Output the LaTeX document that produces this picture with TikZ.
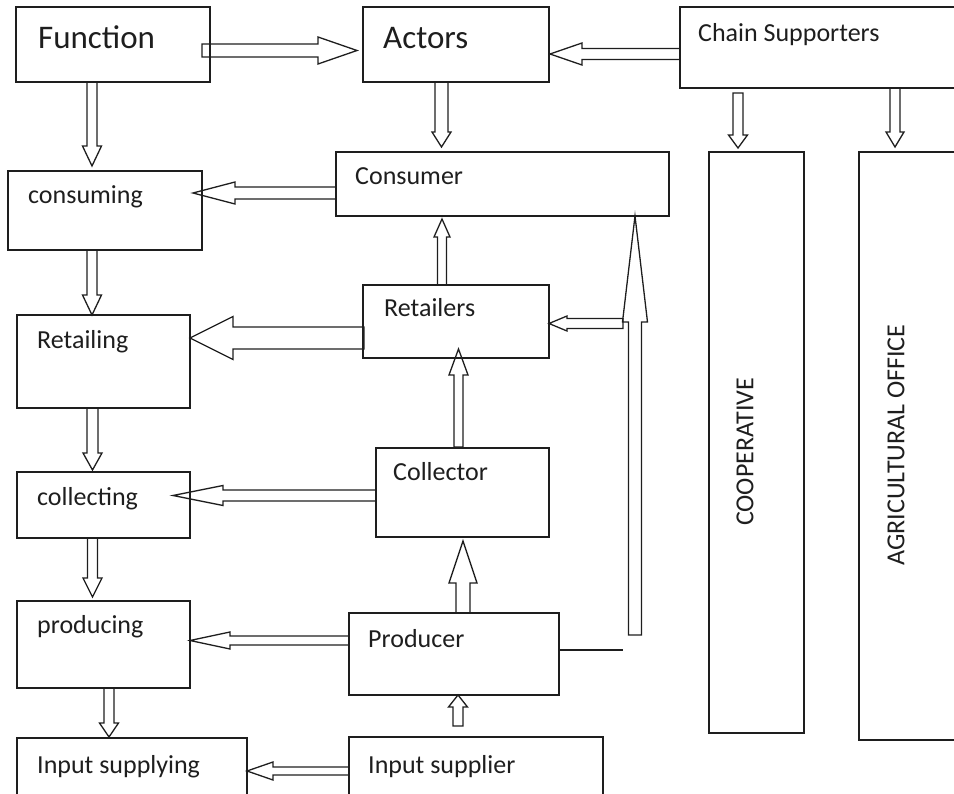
\documentclass[tikz,border=0pt]{standalone}
\usepackage{fontspec}
\setmainfont{Carlito}
\usepackage{tikz}
\usetikzlibrary{calc}
\definecolor{cLine}{RGB}{30,30,30}

% hollow block arrow: start, tip, half shaft, half head, head length
\newcommand{\blockarrow}[5]{%
  \coordinate (ba-s) at #1;
  \coordinate (ba-t) at #2;
  \coordinate (ba-h) at ($(ba-t)!#5!(ba-s)$);
  \draw[barrow] ($(ba-s)!#3!90:(ba-t)$) -- ($(ba-h)!#3!90:(ba-t)$)
    -- ($(ba-h)!#4!90:(ba-t)$) -- (ba-t) -- ($(ba-h)!#4!-90:(ba-t)$)
    -- ($(ba-h)!#3!-90:(ba-t)$) -- ($(ba-s)!#3!-90:(ba-t)$) -- cycle;}

\begin{document}
\begin{tikzpicture}[x=1pt,y=-1pt,font=\fontsize{26}{30}\selectfont,
  box/.style={draw=cLine,line width=1.8pt,inner sep=0pt,outer sep=0pt},
  lbl/.style={anchor=base west,inner sep=0pt,text=cLine},
  big/.style={font=\fontsize{33}{38}\selectfont},
  barrow/.style={draw=cLine,line width=1.3pt,line join=miter}]
 \useasboundingbox (0,0) rectangle (954,794);
 % ---- boxes ----
 \node[box,minimum width=194pt,minimum height=75pt] (fn) at (113,44.5) {};
 \node[box,minimum width=186pt,minimum height=75pt] (act) at (456,44.5) {};
 \node[box,minimum width=295pt,minimum height=81pt] (sup) at (827.5,47.5) {};
 \node[box,minimum width=194pt,minimum height=79pt] (cons) at (105,210.5) {};
 \node[box,minimum width=333pt,minimum height=64pt] (csr) at (502.5,184) {};
 \node[box,minimum width=173pt,minimum height=93pt] (rtl) at (103.5,361.5) {};
 \node[box,minimum width=186pt,minimum height=73pt] (rtr) at (456,321.5) {};
 \node[box,minimum width=173pt,minimum height=66pt] (col) at (103.5,505) {};
 \node[box,minimum width=173pt,minimum height=89pt] (clr) at (462.5,492.5) {};
 \node[box,minimum width=173pt,minimum height=87pt] (prd) at (103.5,644.5) {};
 \node[box,minimum width=210pt,minimum height=82pt] (pdr) at (454,654) {};
 \node[box,minimum width=230pt,minimum height=72pt] (ins) at (132,774) {};
 \node[box,minimum width=254pt,minimum height=63pt] (isr) at (476,768.5) {};
 \node[box,minimum width=95pt,minimum height=581pt] (coop) at (756.5,442.5) {};
 \node[box,minimum width=116pt,minimum height=588pt] (agri) at (917,446) {};
 % ---- labels ----
 \node[lbl,big] (fnt) at (38,49) {Function};
 \node[lbl,big] (actt) at (383,49) {Actors};
 \node[lbl] (supt) at (698,42) {Chain Supporters};
 \node[lbl] (const) at (28,204) {consuming};
 \node[lbl] (csrt) at (355,185) {Consumer};
 \node[lbl] (rtlt) at (37,349) {Retailing};
 \node[lbl] (rtrt) at (384,317) {Retailers};
 \node[lbl] (colt) at (37,505) {collecting};
 \node[lbl] (clrt) at (393,481) {Collector};
 \node[lbl] (prdt) at (37,633) {producing};
 \node[lbl] (pdrt) at (368,647) {Producer};
 \node[lbl] (inst) at (37,773) {Input supplying};
 \node[lbl] (isrt) at (368,773) {Input supplier};
 \node[lbl,anchor=center,rotate=90] (coopt) at (745,452) {COOPERATIVE};
 \node[lbl,anchor=center,rotate=90] (agrit) at (896,445) {AGRICULTURAL OFFICE};
 % ---- top row ----
 \blockarrow{($(fn.east)+(-8,6)$)}{($(act.west)+(-6,6)$)}{6.5pt}{13.5pt}{39pt}
 \blockarrow{($(sup.west)+(0,6.5)$)}{($(act.east)+(1,9.5)$)}{5.5pt}{11pt}{32pt}
 % ---- function column ----
 \blockarrow{($(fn.south)+(-21,0)$)}{($(cons.north)+(-13,-5)$)}{5pt}{9.5pt}{20pt}
 \blockarrow{($(cons.south)+(-13,0)$)}{($(rtl.north)+(-11.5,0)$)}{5pt}{9.5pt}{20pt}
 \blockarrow{($(rtl.south)+(-11,0)$)}{($(col.north)+(-11,-2)$)}{5.5pt}{9.5pt}{17pt}
 \blockarrow{($(col.south)+(-11,0)$)}{($(prd.north)+(-11,-4)$)}{5pt}{9.5pt}{19pt}
 \blockarrow{($(prd.south)+(5.5,0)$)}{($(ins.north)+(-23,-1)$)}{5pt}{9.5pt}{14pt}
 % ---- actors column ----
 \blockarrow{($(act.south)+(-14.5,0)$)}{($(csr.north)+(-61,-5)$)}{6.5pt}{9.5pt}{15pt}
 \blockarrow{($(csr.west)+(0,9)$)}{($(cons.east)+(-9,-17.5)$)}{6pt}{11pt}{42pt}
 \blockarrow{($(rtr.north)+(-14,0)$)}{($(csr.south)+(-60.5,3)$)}{4.5pt}{8pt}{18pt}
 \blockarrow{($(rtr.west)+(1,16.5)$)}{($(rtl.east)+(0,-23.5)$)}{11pt}{21.5pt}{43pt}
 \blockarrow{($(clr.north)+(-4,-1)$)}{($(rtr.south)+(2.5,-9)$)}{4.5pt}{9.5pt}{26pt}
 \blockarrow{($(clr.west)+(0,3)$)}{($(col.east)+(-17,-9.5)$)}{5.5pt}{10pt}{50pt}
 \blockarrow{($(pdr.north)+(9,0)$)}{($(clr.south)+(0.5,4)$)}{7pt}{14pt}{42pt}
 \blockarrow{($(pdr.west)+(0,-13.5)$)}{($(prd.east)+(0,-4)$)}{4.5pt}{8.5pt}{40pt}
 \blockarrow{($(isr.north)+(-18,-11)$)}{($(pdr.south)+(4,0)$)}{5pt}{9.5pt}{12pt}
 \blockarrow{($(isr.west)+(0,2.5)$)}{($(ins.east)+(0,-3)$)}{4pt}{9pt}{26pt}
 % ---- long arrow up to consumer ----
 \coordinate (bigfoot) at (635,635);
 \coordinate (rfork) at (623,323.5);
 \coordinate (pfree) at (623,650);
 \blockarrow{(bigfoot)}{($(csr.south east)+(-34,0)$)}{6.5pt}{12.5pt}{106pt}
 \blockarrow{(rfork)}{($(rtr.east)+(0,2)$)}{5pt}{7.5pt}{18pt}
 \draw[barrow] ($(pdr.east)+(0,-4)$) -- (pfree);
 % ---- supporters ----
 \blockarrow{($(sup.south)+(-89.5,5)$)}{($(coop.north)+(-18.5,-4)$)}{5pt}{9.5pt}{13pt}
 \blockarrow{($(sup.south)+(67.5,0)$)}{($(agri.north)+(-22,-5)$)}{5pt}{9pt}{15pt}
\end{tikzpicture}
\end{document}
